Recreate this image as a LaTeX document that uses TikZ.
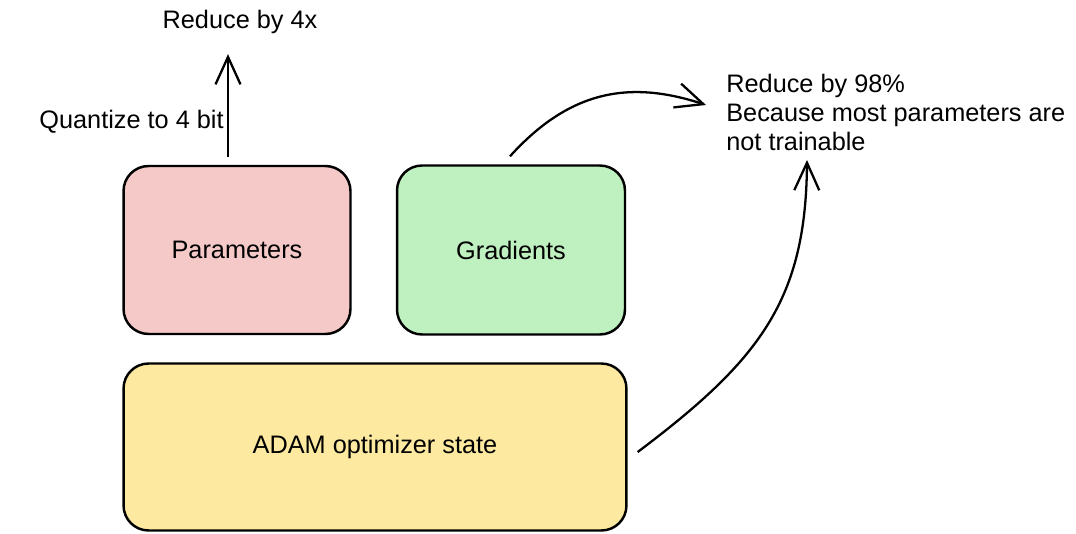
\documentclass[tikz,border=0pt]{standalone}
\usepackage{fontspec}
\setmainfont{Liberation Sans}
\usetikzlibrary{arrows.meta}
\definecolor{parampink}{RGB}{246,201,201}
\definecolor{gradgreen}{RGB}{190,240,192}
\definecolor{adamyellow}{RGB}{253,234,160}
\tikzset{
  block/.style={draw, line width=1.4pt, rounded corners=0.5cm, align=center},
  note/.style={inner sep=0pt, align=left},
  arr/.style={line width=1.3pt, -{Straight Barb[length=0.55cm,width=0.5cm,line width=1.3pt]}},
}
\begin{document}
\begin{tikzpicture}[x=0.02cm, y=-0.02cm, font=\fontsize{14.4}{16.5}\selectfont]
            \useasboundingbox (0,0) rectangle (1076,534);
            % blocks
            \node[block, fill=parampink, minimum width=4.54cm, minimum height=3.36cm] (params) at (237,250) {Parameters};
            \node[block, fill=gradgreen, minimum width=4.56cm, minimum height=3.38cm] (grads) at (511,250) {Gradients};
            \node[block, fill=adamyellow, minimum width=10.06cm, minimum height=3.34cm] (adam) at (375,447) {ADAM optimizer state};
            % notes
            \node[note] (red4) at (240,22) {Reduce by 4x};
            \node[note, anchor=east] (quant) at (224,122) {Quantize to 4 bit};
            \node[note, anchor=north west] (red98) at (726,74) {Reduce by 98\%\\Because most parameters are\\not trainable};
            % arrows
            \draw[arr] ([shift={(-9,-8)}]params.north) -- ([shift={(-12,20)}]red4.south);
            \draw[arr] ([shift={(-1,-8)}]grads.north) .. controls (570,90) and (630,80) .. ([shift={(-20,31)}]red98.north west);
            \draw[arr] ([shift={(10,5)}]adam.east) .. controls (760,360) and (806,300) .. ([shift={(81,86)}]red98.north west);
\end{tikzpicture}
\end{document}
